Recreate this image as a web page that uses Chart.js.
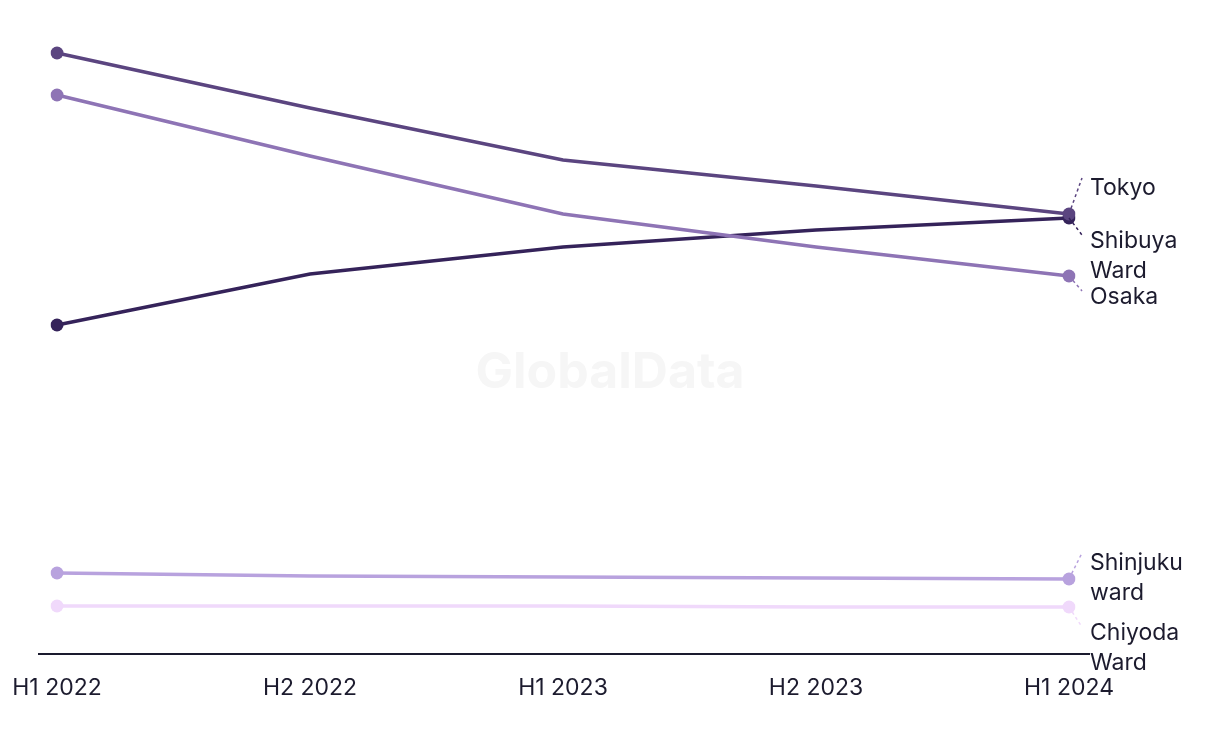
<!DOCTYPE html>
<html>
<head>
<meta charset="utf-8">
<script src="https://cdn.jsdelivr.net/npm/chart.js@4/dist/chart.umd.min.js"></script>
<style>
  html, body { margin: 0; padding: 0; background: #fff; }
  #wrap { width: 1220px; height: 744px; position: relative; }
</style>
</head>
<body>
<div id="wrap"><canvas id="chart" width="1220" height="744"></canvas></div>
<script>
// Data (arbitrary index units)
const periods = ["H1 2022", "H2 2022", "H1 2023", "H2 2023", "H1 2024"];
const seriesNames = ["Tokyo", "Osaka", "Shibuya Ward", "Shinjuku ward", "Chiyoda Ward"];
const tokyo = [601, 546, 494, 468, 440];
const osaka = [559, 498, 440, 407, 378];
const shibuya = [329, 380, 407, 424, 436];
const shinjuku = [81, 78, 77, 76, 75];
const chiyoda = [48, 48, 48, 47, 47];

const colors = ["#5b4580", "#8e74b5", "#35235a", "#b8a2de", "#f0d9fb"];
// label text lines and vertical offset from the end point
const labelLines = [["Tokyo"], ["Osaka"], ["Shibuya", "Ward"], ["Shinjuku", "ward"], ["Chiyoda", "Ward"]];
const labelOffsets = [-26, 21, 23, -16, 26];

const FONT = "Inter, 'Liberation Sans', sans-serif";
const TEXT = "#1c1b2e";

// Axis line wider than the plot, right-hand labels, watermark
const decor = {
  id: "decor",
  beforeDatasetsDraw(chart) {
    const ctx = chart.ctx;
    const a = chart.chartArea;
    ctx.save();
    ctx.font = "bold 50px " + FONT;
    ctx.fillStyle = "#f6f6f6";
    ctx.textAlign = "center";
    ctx.textBaseline = "middle";
    ctx.fillText("GlobalData", 610, 373);
    ctx.strokeStyle = "#1a1a2e";
    ctx.lineWidth = 2;
    ctx.beginPath();
    ctx.moveTo(a.left - 19, a.bottom);
    ctx.lineTo(a.right + 21, a.bottom);
    ctx.stroke();
    ctx.restore();
  },
  afterDatasetsDraw(chart) {
    const ctx = chart.ctx;
    ctx.save();
    chart.data.datasets.forEach((ds, i) => {
      const meta = chart.getDatasetMeta(i);
      const pt = meta.data[meta.data.length - 1];
      const ly = pt.y + labelOffsets[i];
      const lx = pt.x + 21;
      ctx.strokeStyle = colors[i];
      ctx.lineWidth = 1.5;
      ctx.setLineDash([3, 3]);
      ctx.beginPath();
      ctx.moveTo(pt.x, pt.y);
      ctx.lineTo(pt.x + 13, labelOffsets[i] > 0 ? ly - 6 : ly - 10);
      ctx.stroke();
      ctx.setLineDash([]);
      ctx.fillStyle = TEXT;
      ctx.font = "23px " + FONT;
      ctx.textAlign = "left";
      ctx.textBaseline = "middle";
      labelLines[i].forEach((t, k) => ctx.fillText(t, lx, ly + k * 30));
    });
    ctx.restore();
  }
};

const seriesData = [tokyo, osaka, shibuya, shinjuku, chiyoda];

new Chart(document.getElementById("chart"), {
  type: "line",
  data: {
    labels: periods,
    datasets: seriesData.map((d, i) => ({
      label: seriesNames[i],
      data: d,
      borderColor: colors[i],
      backgroundColor: colors[i],
      borderWidth: 3.5,
      tension: 0,
      pointRadius: ctx => (ctx.dataIndex === 0 || ctx.dataIndex === d.length - 1) ? 6.5 : 0,
      pointHoverRadius: 0,
      pointBorderWidth: 0
    }))
  },
  options: {
    responsive: false,
    animation: false,
    events: [],
    layout: { padding: { left: 57, right: 151, top: 30, bottom: 44 } },
    plugins: {
      legend: { display: false },
      tooltip: { enabled: false }
    },
    scales: {
      x: {
        grid: { display: false, drawTicks: false },
        border: { display: false },
        afterFit: scale => {
          scale.paddingLeft = 0;
          scale.paddingRight = 0;
          scale.height = 46;
        },
        ticks: {
          padding: 20,
          color: TEXT,
          maxRotation: 0,
          font: { family: FONT, size: 23 }
        }
      },
      y: {
        display: false,
        min: 0,
        max: 624
      }
    }
  },
  plugins: [decor]
});
</script>
</body>
</html>
